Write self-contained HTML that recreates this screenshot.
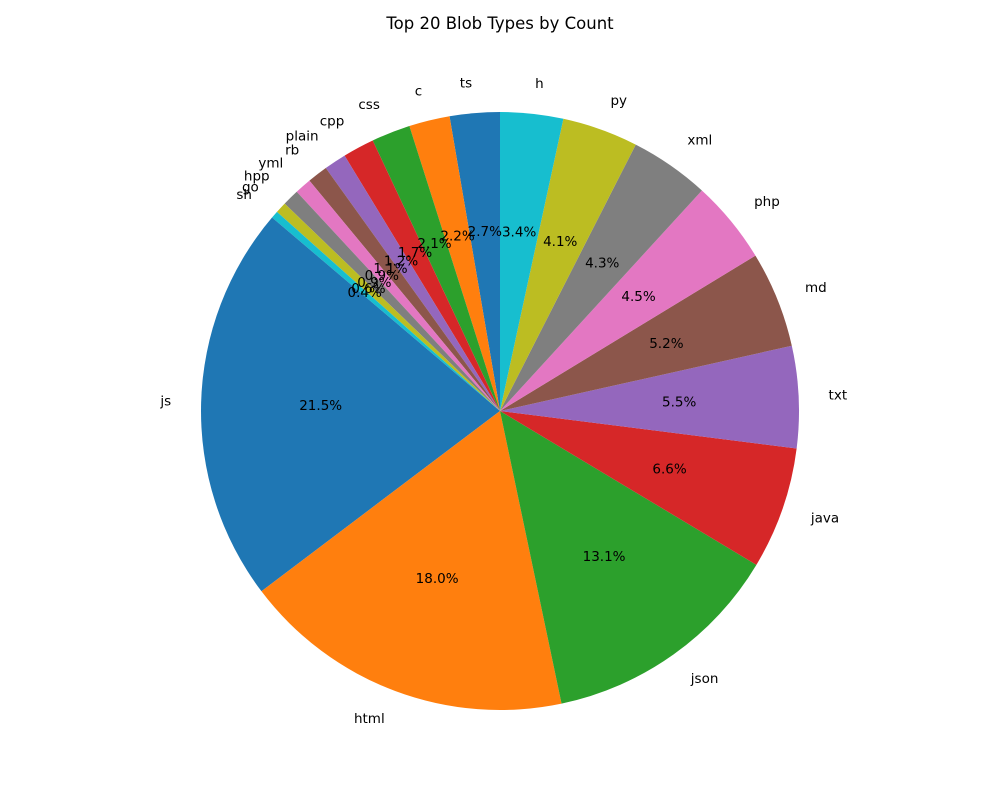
<!DOCTYPE html>
<html><head><meta charset="utf-8"><style>
body{margin:0;background:#fff;}
svg text{font-family:"DejaVu Sans","Liberation Sans",sans-serif;}
</style></head><body>
<svg id="chart" width="1000" height="800" xmlns="http://www.w3.org/2000/svg">
<rect width="1000" height="800" fill="#fff"/>
<text x="500" y="29" text-anchor="middle" font-size="16.5">Top 20 Blob Types by Count</text>
<g id="slices"></g><g id="labels"></g>
</svg>
<script>
const categories = ["ts","c","css","cpp","plain","rb","yml","hpp","go","sh","js","html","json","java","txt","md","php","xml","py","h"];
const values = [2.7,2.2,2.1,1.7,1.2,1.1,0.9,0.9,0.6,0.4,21.5,18.0,13.1,6.6,5.5,5.2,4.5,4.3,4.1,3.4];
const colors = ["#1f77b4","#ff7f0e","#2ca02c","#d62728","#9467bd","#8c564b","#e377c2","#7f7f7f","#bcbd22","#17becf"];
const cx=500, cy=411, R=299;
const total = values.reduce((a,b)=>a+b,0);
const ns="http://www.w3.org/2000/svg";
const gS=document.getElementById('slices'), gL=document.getElementById('labels');
function pt(deg,r){const a=deg*Math.PI/180;return [cx+r*Math.cos(a), cy-r*Math.sin(a)];}
let ang=90;
values.forEach((v,i)=>{
  const sweep=v/total*360, a0=ang, a1=ang+sweep;
  const [x0,y0]=pt(a0,R),[x1,y1]=pt(a1,R);
  const p=document.createElementNS(ns,'path');
  p.setAttribute('d',`M${cx},${cy} L${x0},${y0} A${R},${R} 0 ${sweep>180?1:0} 0 ${x1},${y1} Z`);
  p.setAttribute('fill',colors[i%10]);
  
  
  gS.appendChild(p);
  const mid=(a0+a1)/2;
  const [lx,ly]=pt(mid,R*1.1);
  const t=document.createElementNS(ns,'text');
  t.setAttribute('x',lx);t.setAttribute('y',ly);
  t.setAttribute('text-anchor',Math.cos(mid*Math.PI/180)>=0?'start':'end');
  t.setAttribute('dominant-baseline','central');
  t.setAttribute('font-size','13.5');
  t.textContent=categories[i];
  
  
  gL.appendChild(t);
  const [px,py]=pt(mid,R*0.6);
  const u=document.createElementNS(ns,'text');
  u.setAttribute('x',px);u.setAttribute('y',py);
  u.setAttribute('text-anchor','middle');
  u.setAttribute('dominant-baseline','central');
  u.setAttribute('font-size','13.5');
  u.textContent=(v/total*100).toFixed(1)+'%';
  
  
  gL.appendChild(u);
  ang=a1;
});
</script>
</body></html>
